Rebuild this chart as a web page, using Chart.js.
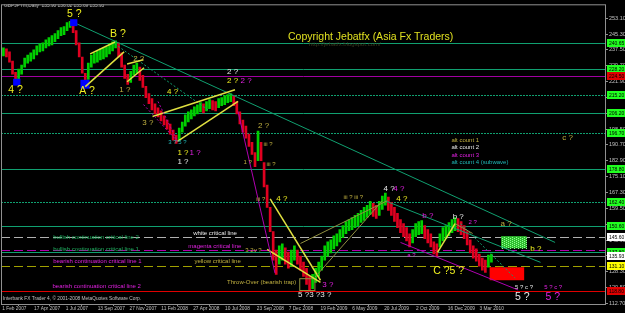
<!DOCTYPE html>
<html>
<head>
<meta charset="utf-8">
<script src="https://cdn.jsdelivr.net/npm/chart.js@4.4.0/dist/chart.umd.min.js"></script>
<style>
  html, body { margin: 0; padding: 0; background: #000; }
</style>
</head>
<body>
<canvas id="chart" width="625" height="313"></canvas>
<script>
// GBPJPY weekly ranges, 1 Feb 2007 .. Mar 2010
const weekLows = [
    234.5, 234, 231.5, 225.5, 221.5, 222.5, 225.5, 229, 231, 232,
    233, 235, 236.5, 237, 238.5, 239.5, 240, 241.5, 243, 244.5,
    245, 247, 248.5, 246, 240, 234, 226, 219, 223, 229,
    231, 231.5, 232.5, 233, 234, 235.5, 237, 238.5, 234, 229,
    223.5, 220.5, 221.5, 225, 226, 222.5, 219, 214, 211, 208,
    206, 204.5, 202.5, 200.5, 198.5, 196, 193, 191.5, 193, 197,
    200, 202, 203.5, 205, 206, 207, 206.5, 207.5, 208.5, 208,
    207.5, 209, 210, 210.5, 211.5, 212, 210, 206, 201, 197,
    194, 190, 186, 180, 183, 183, 170, 160, 148, 134,
    127, 132, 134, 132, 130, 131, 134, 132, 129, 126,
    122, 118.8, 120, 123, 126, 129, 134, 136, 137.5, 139.5,
    141, 143, 145, 147, 148.5, 149, 150, 151, 152.5, 153.5,
    155, 156.5, 155.5, 154.5, 156, 159, 161, 158.5, 156, 153,
    150, 147.5, 145.5, 143.5, 140.5, 142.5, 145.5, 146.5, 147, 144.5,
    142.5, 140.5, 137, 136, 140.5, 143.5, 144.5, 146, 147.5, 148.5,
    148, 146.5, 144.5, 141.5, 137.5, 135, 133.5, 131, 129, 128,
    130.5, 133
];
const weekHighs = [
    238.5, 238, 236.5, 232, 226.5, 228, 230, 233.5, 235, 236,
    237.5, 239.5, 240.5, 241, 242.5, 243.5, 244.5, 245.5, 247, 248.5,
    249, 251, 251.5, 251, 247, 241, 234, 226, 231, 235,
    236, 237, 238, 238.5, 239, 240.5, 241.5, 242, 241, 236,
    230, 225.5, 227, 230, 231, 229, 225, 219.5, 216, 213.5,
    211, 209, 207.5, 205, 203, 201, 198, 195.5, 199, 202,
    205.5, 207, 208, 209.5, 210.5, 211.5, 211, 212, 213, 212.5,
    212, 213.5, 214, 215, 215.5, 216, 215, 212, 207, 203,
    200, 196, 192, 187, 197.5, 192, 182, 171, 160, 148,
    139, 141, 142, 140, 138, 139, 141, 139, 136, 133,
    130, 126, 127, 130, 133, 136, 141, 143, 144, 146,
    147, 149, 151, 153, 154, 155, 156, 157, 158.5, 160,
    161, 163, 162, 161, 163, 165.5, 167, 165, 162.5, 160,
    157, 154, 152, 150, 147, 149, 152, 153, 153.5, 151,
    149, 147, 143, 142, 147, 150, 151, 152.5, 154, 155,
    154.5, 153, 151, 148, 144, 141, 139.5, 137, 135, 134,
    136.5, 137
];
const daysPerWeek = 5;

const dateLabels = ['1 Feb 2007', '17 Apr 2007', '1 Jul 2007', '13 Sep 2007', '27 Nov 2007',
    '11 Feb 2008', '27 Apr 2008', '10 Jul 2008', '23 Sep 2008', '7 Dec 2008',
    '19 Feb 2009', '6 May 2009', '20 Jul 2009', '2 Oct 2009', '16 Dec 2009', '3 Mar 2010'];
const dateStep = 52.5;   // bars between date labels
const priceTicks = [253.10, 245.30, 237.50, 229.70, 221.90, 214.10, 206.30, 198.50, 190.70,
    182.90, 175.10, 167.30, 159.50, 151.70, 143.90, 136.10, 128.30, 120.50, 112.70];

// horizontal levels and what sort of line each one is
const levelPrices = [240.65, 228.2, 224.5, 215.2, 206.2, 196.7, 178.8, 162.4, 150.6,
    145.6, 138.8, 137.8, 135.93, 131.1, 118.8];
const levelKinds = ['green', 'green', 'magenta', 'greenDot', 'green', 'greenDot', 'green', 'greenDot', 'green',
    'white', 'magentaDash', 'green', 'price', 'yellow', 'red'];

// trend lines: [day1, price1, day2, price2, kind]
const trendLines = [
    [124, 250.2, 912, 142.7, 'teal'],
    [186, 240.4, 343, 207.2, 'tealDot'],
    [632, 163.2, 888, 132.9, 'teal'],
    [756, 152.0, 846, 125.1, 'tealDot'],
    [137, 219.4, 201, 236.5, 'yellow'],
    [145, 235.5, 186, 241.4, 'yellow'],
    [206, 230.6, 233, 232.6, 'yellow'],
    [206, 221.8, 234, 228.7, 'yellow'],
    [248, 204.7, 384, 217.9, 'yellow'],
    [289, 192.5, 389, 212.1, 'yellow'],
    [442, 164.2, 525, 124.1, 'yellow'],
    [437, 139.3, 525, 123.1, 'yellow'],
    [492, 142.2, 635, 163.2, 'olive'],
    [516, 125.6, 627, 163.2, 'olive'],
    [718, 137.8, 747, 152.0, 'yellow'],
    [747, 152.0, 776, 147.1, 'olive'],
    [389, 207.2, 450, 127.6, 'magenta'],
    [657, 142.7, 851, 119.3, 'magenta'],
    [233, 210.6, 289, 192.5, 'magentaDot'],
    [257, 212.1, 289, 192.5, 'magentaDot']
];

// boxes: [day1, price1, day2, price2, kind]
const zoneBoxes = [
    [112, 252.6, 124, 249.2, 'blue'],
    [18, 223.3, 30, 219.9, 'blue'],
    [129, 222.8, 144, 218.4, 'blue'],
    [804, 130.5, 861, 124.1, 'red'],
    [823, 145.8, 865, 139.8, 'green'],
    [490, 125.1, 515, 119.3, 'outline']
];

// wave count labels: [day, price, text, ink+size]
const waveLabels = [
    [107, 255.05, '5 ?', 'Y1'], [178, 245.3, 'B ?', 'Y1'], [10, 217.9, '4 ?', 'Y1'], [127, 217.4, 'A ?', 'Y1'],
    [193, 217.9, '1 ?', 'O2'], [216, 233.1, '2 ?', 'O2'],
    [371, 226.7, '2 ?', 'W2'], [371, 222.3, '2 ?', 'Y2'], [393, 222.3, '2 ?', 'M2'],
    [272, 217.0, '4 ?', 'Y2'], [231, 201.8, '3 ?', 'O2'], [274, 192.0, '3 ? 5 ?', 'T3'],
    [289, 186.7, '1 ?', 'Y2'], [309, 186.7, '1 ?', 'M2'], [289, 182.3, '1 ?', 'W2'],
    [422, 199.9, '2 ?', 'O2'], [431, 191.1, 'iii ?', 'O3'], [398, 182.3, '1 ?', 'O3'],
    [436, 181.3, 'iii ?', 'O3'], [452, 164.2, '4 ?', 'Y2'], [419, 163.7, 'iii ?', 'O3'],
    [563, 164.7, 'iii ? iii ?', 'O3'],
    [629, 169.1, '4 ?', 'W2'], [645, 169.1, '4 ?', 'M2'], [650, 164.2, '4 ?', 'Y2'],
    [401, 138.8, '3 2v ?', 'O3'],
    [488, 116.8, '5 ?3 ?3 ?', 'W2'], [528, 121.7, '3 ?', 'M2'],
    [711, 128.5, 'C ?5 ?', 'Y1'],
    [871, 139.8, 'b ?', 'Y2'], [822, 152.0, 'a ?', 'O2'], [743, 155.4, 'b ?', 'W2'], [693, 155.9, 'b ?', 'M2'],
    [769, 152.5, '2 ?', 'M3'], [668, 136.3, 'a ?', 'M3'],
    [846, 115.8, '5 ?', 'W1'], [896, 115.8, '5 ?', 'M1'],
    [846, 120.7, '5 ? c ?', 'W3'], [894, 120.7, '5 ? c ?', 'M3'],
    [924, 194.0, 'c ?', 'O2']
];

// notes on the chart: [day, price, text, ink+size]
const noteLabels = [
    [84, 145.1, 'bullish continuation critical line 2', 'G3'],
    [84, 139.3, 'bullish continuation critical line 1', 'G3'],
    [84, 133.4, 'bearish continuation critical line 1', 'M3'],
    [83, 121.2, 'bearish continuation critical line 2', 'M3'],
    [315, 147.1, 'white critical line', 'W3'],
    [307, 140.7, 'magenta critical line', 'M3'],
    [317, 133.4, 'yellow critical line', 'O3'],
    [371, 123.2, 'Throw-Over (bearish trap)', 'O3'],
    [741, 193.0, 'alt count 1', 'O3'],
    [741, 189.6, 'alt count 2', 'W3'],
    [741, 185.7, 'alt count 3', 'M3'],
    [741, 182.3, 'alt count 4 (subwave)', 'T3']
];

const FONT = '"Liberation Sans", Arial, sans-serif';
const inks = { Y: '#f0f020', O: '#c0b040', W: '#e8e8e8', M: '#e020e0', T: '#20b8b8', G: '#20b060' };
const inkSizes = { 1: 10.5, 2: 8, 3: 6 };
const levelStyles = {
    green:       { color: '#10a070', dash: [],     tag: '#20ff20' },
    greenDot:    { color: '#10a070', dash: [2, 1], tag: '#20ff20' },
    magenta:     { color: '#a000a0', dash: [],     tag: '#e00000' },
    magentaDash: { color: '#b000b0', dash: [9, 4], tag: null },
    white:       { color: '#b0b0b0', dash: [9, 4], tag: '#ffffff' },
    price:       { color: '#808080', dash: [],     tag: '#ffffff' },
    yellow:      { color: '#a0a000', dash: [9, 4], tag: '#ffff00' },
    red:         { color: '#e00000', dash: [],     tag: '#e00000' }
};
const lineStyles = {
    teal:       { color: '#10a070', dash: [],     width: 1 },
    tealDot:    { color: '#10a070', dash: [2, 2], width: 1 },
    yellow:     { color: '#e0e040', dash: [],     width: 1.5 },
    olive:      { color: '#909040', dash: [],     width: 1 },
    magenta:    { color: '#b000b0', dash: [],     width: 1 },
    magentaDot: { color: '#b000b0', dash: [2, 2], width: 1 }
};

const bars = weekLows.map((lo, i) => ({ x: i * daysPerWeek + 2, y: [lo, weekHighs[i]] }));
const barColors = weekLows.map((lo, i) => {
    const mid = (lo + weekHighs[i]) / 2;
    const prev = i ? (weekLows[i - 1] + weekHighs[i - 1]) / 2 : mid;
    return mid >= prev ? '#00d000' : '#e00020';
});

function drawText(ctx, x, y, text, kind) {
    ctx.fillStyle = inks[kind[0]];
    ctx.font = inkSizes[kind[1]] + 'px ' + FONT;
    ctx.textAlign = 'left';
    ctx.textBaseline = 'middle';
    ctx.fillText(text, x, y);
}

const overlay = {
    id: 'overlay',
    beforeDraw(chart) {
        const ctx = chart.ctx;
        ctx.save();
        ctx.fillStyle = '#000';
        ctx.fillRect(0, 0, chart.width, chart.height);
        ctx.restore();
    },
    beforeDatasetsDraw(chart) {
        const { ctx, chartArea: a, scales: { y } } = chart;
        ctx.save();
        levelPrices.forEach((p, i) => {
            const st = levelStyles[levelKinds[i]];
            const yy = Math.round(y.getPixelForValue(p)) + 0.5;
            ctx.strokeStyle = st.color;
            ctx.setLineDash(st.dash);
            ctx.lineWidth = 1;
            ctx.beginPath();
            ctx.moveTo(a.left, yy);
            ctx.lineTo(a.right, yy);
            ctx.stroke();
        });
        ctx.restore();
    },
    afterDatasetsDraw(chart) {
        const { ctx, chartArea: a, scales: { x, y } } = chart;
        ctx.save();
        ctx.beginPath();
        ctx.rect(a.left, a.top, a.right - a.left, a.bottom - a.top);
        ctx.clip();

        zoneBoxes.forEach(([d1, p1, d2, p2, kind]) => {
            const x1 = x.getPixelForValue(d1), x2 = x.getPixelForValue(d2);
            const y1 = y.getPixelForValue(p1), y2 = y.getPixelForValue(p2);
            if (kind === 'outline') {
                ctx.strokeStyle = '#909040';
                ctx.lineWidth = 1;
                ctx.setLineDash([]);
                ctx.strokeRect(x1 + 0.5, y1 + 0.5, x2 - x1, y2 - y1);
                return;
            }
            ctx.fillStyle = kind === 'blue' ? '#0000ff' : kind === 'red' ? '#ff0000' : '#30c030';
            ctx.fillRect(x1, y1, x2 - x1, y2 - y1);
            if (kind === 'green') {
                ctx.fillStyle = '#90ff90';
                for (let px = Math.ceil(x1); px < x2; px += 2) {
                    for (let py = Math.ceil(y1) + ((px & 2) ? 1 : 0); py < y2; py += 2) {
                        ctx.fillRect(px, py, 1, 1);
                    }
                }
            }
        });

        trendLines.forEach(([d1, p1, d2, p2, kind]) => {
            const st = lineStyles[kind];
            ctx.strokeStyle = st.color;
            ctx.lineWidth = st.width;
            ctx.setLineDash(st.dash);
            ctx.beginPath();
            ctx.moveTo(x.getPixelForValue(d1), y.getPixelForValue(p1));
            ctx.lineTo(x.getPixelForValue(d2), y.getPixelForValue(p2));
            ctx.stroke();
        });
        ctx.setLineDash([]);

        waveLabels.concat(noteLabels).forEach(([d, p, text, kind]) => {
            drawText(ctx, x.getPixelForValue(d), y.getPixelForValue(p), text, kind);
        });

        // copyright stamp and header, fixed on screen
        ctx.fillStyle = '#e0e020';
        ctx.font = '10.5px ' + FONT;
        ctx.textBaseline = 'middle';
        ctx.fillText('Copyright Jebatfx (Asia Fx Traders)', 288, 37);
        ctx.fillStyle = '#3a3a20';
        ctx.font = '6px ' + FONT;
        ctx.fillText('http://jebatfx.blogspot.com/', 309, 44);
        ctx.fillStyle = '#c0c0c0';
        ctx.font = '4.8px ' + FONT;
        ctx.fillText('GBPJPYm,Daily  135.90 136.02 135.69 135.93', 4, 6);
        ctx.fillText('Interbank FX Trader 4, \u00a9 2001-2008 MetaQuotes Software Corp.', 3, 299);
        ctx.restore();
    },
    afterDraw(chart) {
        const { ctx, chartArea: a, scales: { y } } = chart;
        ctx.save();
        ctx.strokeStyle = '#909090';
        ctx.lineWidth = 1;
        ctx.strokeRect(a.left + 0.5, a.top + 0.5, a.right - a.left - 1, a.bottom - a.top);
        levelPrices.forEach((p, i) => {
            const st = levelStyles[levelKinds[i]];
            if (!st.tag) return;
            const yy = Math.round(y.getPixelForValue(p));
            ctx.fillStyle = st.tag;
            ctx.fillRect(a.right + 1, yy - 4, 19, 8);
            ctx.fillStyle = '#000';
            ctx.font = '5px ' + FONT;
            ctx.textAlign = 'left';
            ctx.textBaseline = 'middle';
            ctx.fillText(p.toFixed(2), a.right + 3, yy + 0.5);
        });
        ctx.restore();
    }
};

new Chart(document.getElementById('chart').getContext('2d'), {
    type: 'bar',
    data: {
        datasets: [{
            data: bars,
            backgroundColor: barColors,
            barThickness: 2,
            borderWidth: 0,
            grouped: false
        }]
    },
    options: {
        responsive: false,
        animation: false,
        layout: { padding: { left: 1, top: 2, right: 0, bottom: 0 } },
        plugins: { legend: { display: false }, tooltip: { enabled: false } },
        scales: {
            x: {
                type: 'linear',
                min: -2,
                max: 996,
                offset: false,
                afterBuildTicks: (scale) => {
                    scale.ticks = dateLabels.map((_, i) => ({ value: i * dateStep }));
                },
                afterFit: (scale) => { scale.height = 9; },
                grid: { drawOnChartArea: false, tickLength: 2, color: '#909090' },
                border: { display: false },
                ticks: {
                    autoSkip: false,
                    maxRotation: 0,
                    align: 'start',
                    padding: 0,
                    color: '#c0c0c0',
                    font: { size: 4.8, family: FONT },
                    callback: (v, i) => dateLabels[i]
                }
            },
            y: {
                position: 'right',
                min: 112.4,
                max: 259.94,
                afterBuildTicks: (scale) => {
                    scale.ticks = priceTicks.map(v => ({ value: v }));
                },
                afterFit: (scale) => { scale.width = 19; },
                grid: { drawOnChartArea: false, tickLength: 2, color: '#909090' },
                border: { display: false },
                ticks: {
                    autoSkip: false,
                    padding: 1,
                    color: '#c0c0c0',
                    font: { size: 5.5, family: FONT },
                    callback: (v) => v.toFixed(2)
                }
            }
        }
    },
    plugins: [overlay]
});
</script>
</body>
</html>
